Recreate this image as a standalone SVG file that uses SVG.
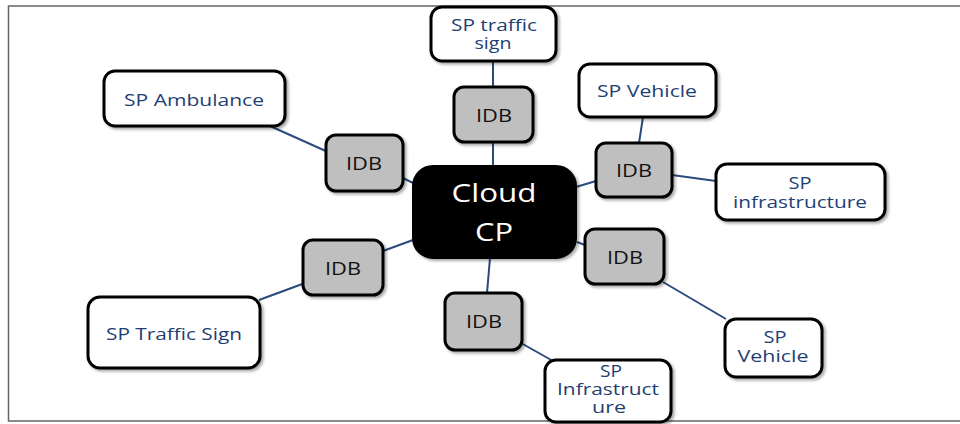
<svg xmlns="http://www.w3.org/2000/svg" width="960" height="424" viewBox="0 0 960 424">
<defs>
<filter id="sh" x="-10%" y="-10%" width="130%" height="130%">
<feGaussianBlur in="SourceAlpha" stdDeviation="1.5"/>
<feOffset dx="2" dy="2"/>
<feComponentTransfer><feFuncA type="linear" slope="0.35"/></feComponentTransfer>
<feMerge><feMergeNode/><feMergeNode in="SourceGraphic"/></feMerge>
</filter>
</defs>
<style>
.sp{fill:#ffffff;stroke:#000;stroke-width:3;filter:url(#sh)}
.idb{fill:#bfbfbf;stroke:#000;stroke-width:3;filter:url(#sh)}
.cl{fill:#000;stroke:#000;stroke-width:2;filter:url(#sh)}
.t{font-family:"Open Sans","Liberation Sans",sans-serif;font-size:16.5px;fill:#1f3f73;text-anchor:middle}
.ti{font-family:"Open Sans","Liberation Sans",sans-serif;font-size:18px;fill:#111;text-anchor:middle}
.tc{font-family:"Open Sans","Liberation Sans",sans-serif;font-size:25px;fill:#fff;text-anchor:middle}
.c{stroke:#2a4b7c;stroke-width:2;fill:none}
</style>
<rect width="960" height="424" fill="#fff"/>
<path d="M960,6 H8.5 V421 H960" fill="none" stroke="#666" stroke-width="1.5"/>
<g id="connectors">
<line class="c" x1="493" y1="62" x2="493" y2="87"/>
<line class="c" x1="493" y1="142" x2="493" y2="166"/>
<line class="c" x1="270" y1="126" x2="328" y2="152"/>
<line class="c" x1="403" y1="178" x2="413" y2="183"/>
<line class="c" x1="643" y1="117" x2="639" y2="143"/>
<line class="c" x1="672" y1="175" x2="716" y2="181"/>
<line class="c" x1="576" y1="187" x2="596" y2="181"/>
<line class="c" x1="577" y1="242" x2="585" y2="245"/>
<line class="c" x1="663" y1="282" x2="726" y2="319"/>
<line class="c" x1="490" y1="258" x2="487" y2="293"/>
<line class="c" x1="521" y1="343" x2="553" y2="361"/>
<line class="c" x1="383" y1="251" x2="413" y2="240"/>
<line class="c" x1="305" y1="283" x2="259" y2="300"/>
</g>
<g id="cloud-cp">
<rect class="cl" x="413" y="166" width="163" height="92" rx="20"/>
<text class="tc" x="494" y="202" textLength="85" lengthAdjust="spacingAndGlyphs">Cloud</text>
<text class="tc" x="494" y="241" textLength="38" lengthAdjust="spacingAndGlyphs">CP</text>
</g>
<g id="sp-traffic-sign-top">
<rect class="sp" x="431" y="7" width="125" height="54" rx="11"/>
<text class="t" x="494" y="31" textLength="86" lengthAdjust="spacingAndGlyphs">SP traffic</text>
<text class="t" x="493" y="49" textLength="37" lengthAdjust="spacingAndGlyphs">sign</text>
</g>
<g id="idb-top">
<rect class="idb" x="454" y="87" width="79" height="55" rx="10"/>
<text class="ti" x="494" y="122" textLength="36" lengthAdjust="spacingAndGlyphs">IDB</text>
</g>
<g id="sp-ambulance">
<rect class="sp" x="104" y="71" width="181" height="55" rx="11"/>
<text class="t" x="194" y="106" textLength="140" lengthAdjust="spacingAndGlyphs">SP Ambulance</text>
</g>
<g id="idb-upper-left">
<rect class="idb" x="326" y="135" width="77" height="56" rx="10"/>
<text class="ti" x="364" y="170" textLength="36" lengthAdjust="spacingAndGlyphs">IDB</text>
</g>
<g id="sp-vehicle-top">
<rect class="sp" x="579" y="64" width="137" height="53" rx="11"/>
<text class="t" x="647" y="97" textLength="100" lengthAdjust="spacingAndGlyphs">SP Vehicle</text>
</g>
<g id="idb-upper-right">
<rect class="idb" x="596" y="143" width="76" height="54" rx="10"/>
<text class="ti" x="634" y="177" textLength="36" lengthAdjust="spacingAndGlyphs">IDB</text>
</g>
<g id="sp-infrastructure-right">
<rect class="sp" x="716" y="164" width="169" height="56" rx="11"/>
<text class="t" x="800" y="189" textLength="23" lengthAdjust="spacingAndGlyphs">SP</text>
<text class="t" x="800" y="208" textLength="134" lengthAdjust="spacingAndGlyphs">infrastructure</text>
</g>
<g id="idb-lower-right">
<rect class="idb" x="585" y="229" width="79" height="55" rx="10"/>
<text class="ti" x="625" y="264" textLength="36" lengthAdjust="spacingAndGlyphs">IDB</text>
</g>
<g id="sp-vehicle-bottom">
<rect class="sp" x="725" y="319" width="97" height="58" rx="11"/>
<text class="t" x="775" y="343" textLength="23" lengthAdjust="spacingAndGlyphs">SP</text>
<text class="t" x="773" y="362" textLength="71" lengthAdjust="spacingAndGlyphs">Vehicle</text>
</g>
<g id="idb-bottom">
<rect class="idb" x="445" y="293" width="77" height="57" rx="10"/>
<text class="ti" x="484" y="328" textLength="36" lengthAdjust="spacingAndGlyphs">IDB</text>
</g>
<g id="sp-infrastructure-bottom">
<rect class="sp" x="545" y="360" width="126" height="62" rx="11"/>
<text class="t" x="611" y="377" textLength="22" lengthAdjust="spacingAndGlyphs">SP</text>
<text class="t" x="608" y="395" textLength="102" lengthAdjust="spacingAndGlyphs">Infrastruct</text>
<text class="t" x="609" y="413" textLength="34" lengthAdjust="spacingAndGlyphs">ure</text>
</g>
<g id="idb-lower-left">
<rect class="idb" x="303" y="240" width="80" height="55" rx="10"/>
<text class="ti" x="343" y="275" textLength="36" lengthAdjust="spacingAndGlyphs">IDB</text>
</g>
<g id="sp-traffic-sign-left">
<rect class="sp" x="88" y="297" width="172" height="71" rx="12"/>
<text class="t" x="174" y="340" textLength="136" lengthAdjust="spacingAndGlyphs">SP Traffic Sign</text>
</g>
</svg>
